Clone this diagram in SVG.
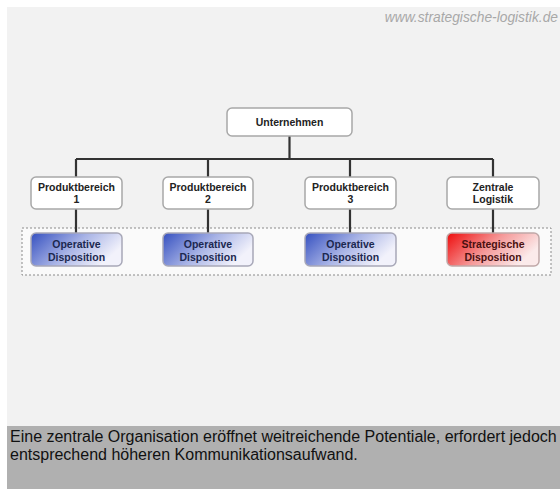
<svg xmlns="http://www.w3.org/2000/svg" width="560" height="489" viewBox="0 0 560 489">
<defs>
<linearGradient id="gBlue" x1="0" y1="0" x2="1" y2="0.4">
<stop offset="0" stop-color="#3550c0"/>
<stop offset="0.55" stop-color="#a9b4e6"/>
<stop offset="1" stop-color="#f2f2fb"/>
</linearGradient>
<linearGradient id="gRed" x1="0" y1="0" x2="1" y2="0.4">
<stop offset="0" stop-color="#ee0a0a"/>
<stop offset="0.55" stop-color="#f59a9a"/>
<stop offset="1" stop-color="#fbeaea"/>
</linearGradient>
</defs>
<style>
.box{fill:#ffffff;stroke:#a8a8a8;stroke-width:1.5}
.lbl{font-family:"Liberation Sans",Arial,sans-serif;font-weight:bold;font-size:10.5px;fill:#222;text-anchor:middle}
.op{fill:url(#gBlue);stroke:#a8a8b8;stroke-width:1.5}
.st{fill:url(#gRed);stroke:#c0a8a8;stroke-width:1.5}
.opl{fill:#1c2850}
.stl{fill:#4a1010}
.con{stroke:#333;stroke-width:2.2;fill:none}
.foot{font-family:"Liberation Sans",Arial,sans-serif;font-size:16px;fill:#111}
</style>
<rect x="0" y="0" width="560" height="489" fill="#ffffff"/>
<rect x="7" y="7" width="553" height="420" fill="#f2f2f2"/>
<rect x="7" y="426" width="553" height="63" fill="#b0b0b0"/>
<text x="558" y="22" text-anchor="end" font-family="Liberation Sans,Arial,sans-serif" font-style="italic" font-size="13.8" fill="#a8a8a8">www.strategische-logistik.de</text>
<rect x="22" y="228" width="529" height="47" fill="#fafafa" stroke="#8a8a8a" stroke-width="1" stroke-dasharray="2,2"/>
<g id="connectors">
<path class="con" d="M289.5 136V159M76 159H493M76 159V177M208 159V177M350 159V177M493 159V177"/>
<path class="con" d="M76 209V233M208 209V233M350 209V233M493 209V233"/>
</g>
<g id="unternehmen"><rect class="box" x="227" y="108" width="125" height="28" rx="5"/><text class="lbl" x="289.5" y="126">Unternehmen</text></g>
<g id="pb1"><rect class="box" x="31" y="177" width="91" height="32" rx="5"/><text class="lbl" x="76.5" y="191">Produktbereich</text><text class="lbl" x="76.5" y="203">1</text></g>
<g id="pb2"><rect class="box" x="163" y="177" width="90" height="32" rx="5"/><text class="lbl" x="208" y="191">Produktbereich</text><text class="lbl" x="208" y="203">2</text></g>
<g id="pb3"><rect class="box" x="305" y="177" width="91" height="32" rx="5"/><text class="lbl" x="350.5" y="191">Produktbereich</text><text class="lbl" x="350.5" y="203">3</text></g>
<g id="zl"><rect class="box" x="447" y="177" width="92" height="32" rx="5"/><text class="lbl" x="493" y="191">Zentrale</text><text class="lbl" x="493" y="203">Logistik</text></g>
<g id="op1"><rect class="op" x="31" y="233" width="91" height="33" rx="5"/><text class="lbl opl" x="76.5" y="248">Operative</text><text class="lbl opl" x="76.5" y="261">Disposition</text></g>
<g id="op2"><rect class="op" x="163" y="233" width="90" height="33" rx="5"/><text class="lbl opl" x="208" y="248">Operative</text><text class="lbl opl" x="208" y="261">Disposition</text></g>
<g id="op3"><rect class="op" x="305" y="233" width="91" height="33" rx="5"/><text class="lbl opl" x="350.5" y="248">Operative</text><text class="lbl opl" x="350.5" y="261">Disposition</text></g>
<g id="sd"><rect class="st" x="447" y="233" width="92" height="33" rx="5"/><text class="lbl stl" x="493" y="248">Strategische</text><text class="lbl stl" x="493" y="261">Disposition</text></g>
<text class="foot" x="10" y="442">Eine zentrale Organisation eröffnet weitreichende Potentiale, erfordert jedoch</text>
<text class="foot" x="10" y="460">entsprechend höheren Kommunikationsaufwand.</text>
</svg>
